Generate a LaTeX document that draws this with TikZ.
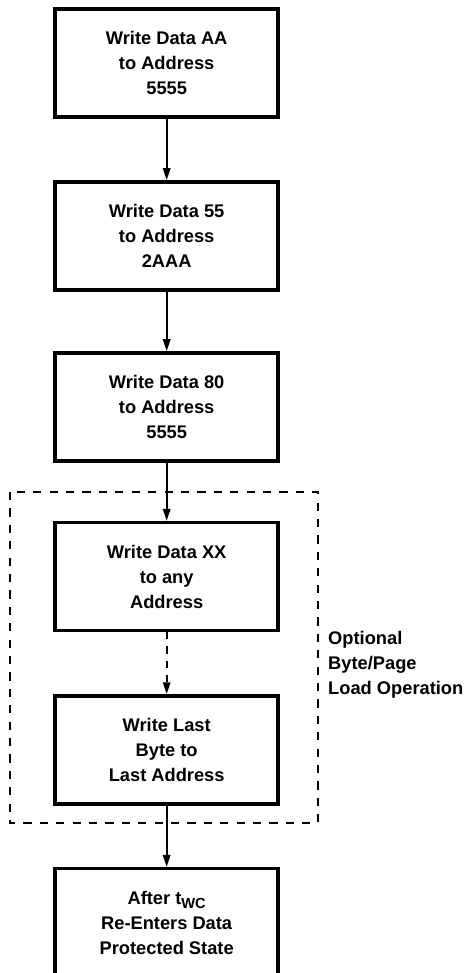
\documentclass[tikz,border=0pt]{standalone}
\usepackage{fontspec}
\setmainfont{Liberation Sans}
\usepackage{tikz}
\usetikzlibrary{arrows.meta}

\newcommand{\lowsub}[1]{\raisebox{-.4ex}{\fontsize{12.5}{12.5}\selectfont #1}}

\begin{document}
\begin{tikzpicture}[
    box/.style={draw, line width=3pt, minimum width=6.69cm, minimum height=3.24cm, inner sep=0pt, align=center, font=\fontsize{15.6}{21.3}\selectfont\bfseries},
    flow/.style={line width=1.7pt, -{Triangle[length=0.36cm,width=0.22cm]}}
    ]
        \useasboundingbox (0,0) rectangle (13.95,-29.19);

        \node[box] (Write-AA) at (5.0,-1.89) {Write Data AA\\to Address\\5555};
        \node[box] (Write-55) at (5.0,-7.08) {Write Data 55\\to Address\\2AAA};
        \node[box] (Write-80) at (5.0,-12.21) {Write Data 80\\to Address\\5555};
        \node[box] (Write-XX) at (5.0,-17.30) {Write Data XX\\to any\\Address};
        \node[box] (Write-Last) at (5.0,-22.50) {Write Last\\Byte to\\Last Address};
        \node[box] (After-tWC) at (5.0,-27.68) {After t\lowsub{WC}\\Re-Enters Data\\Protected State};

        \draw[line width=1.7pt, dash pattern=on 7pt off 7pt] (0.30,-14.76) rectangle (9.54,-24.69);
        \node[anchor=west, align=left, inner sep=0pt, font=\fontsize{15.6}{21.3}\selectfont\bfseries] (Optional-Load) at (9.84,-19.95) {Optional\\Byte/Page\\Load Operation};

        \draw[flow] (Write-AA) -- (Write-55);
        \draw[flow] (Write-55) -- (Write-80);
        \draw[flow] (Write-80) -- (Write-XX);
        \draw[flow, dash pattern=on 6pt off 6pt] (Write-XX) -- (Write-Last);
        \draw[flow] (Write-Last) -- (After-tWC);
    \end{tikzpicture}
\end{document}
